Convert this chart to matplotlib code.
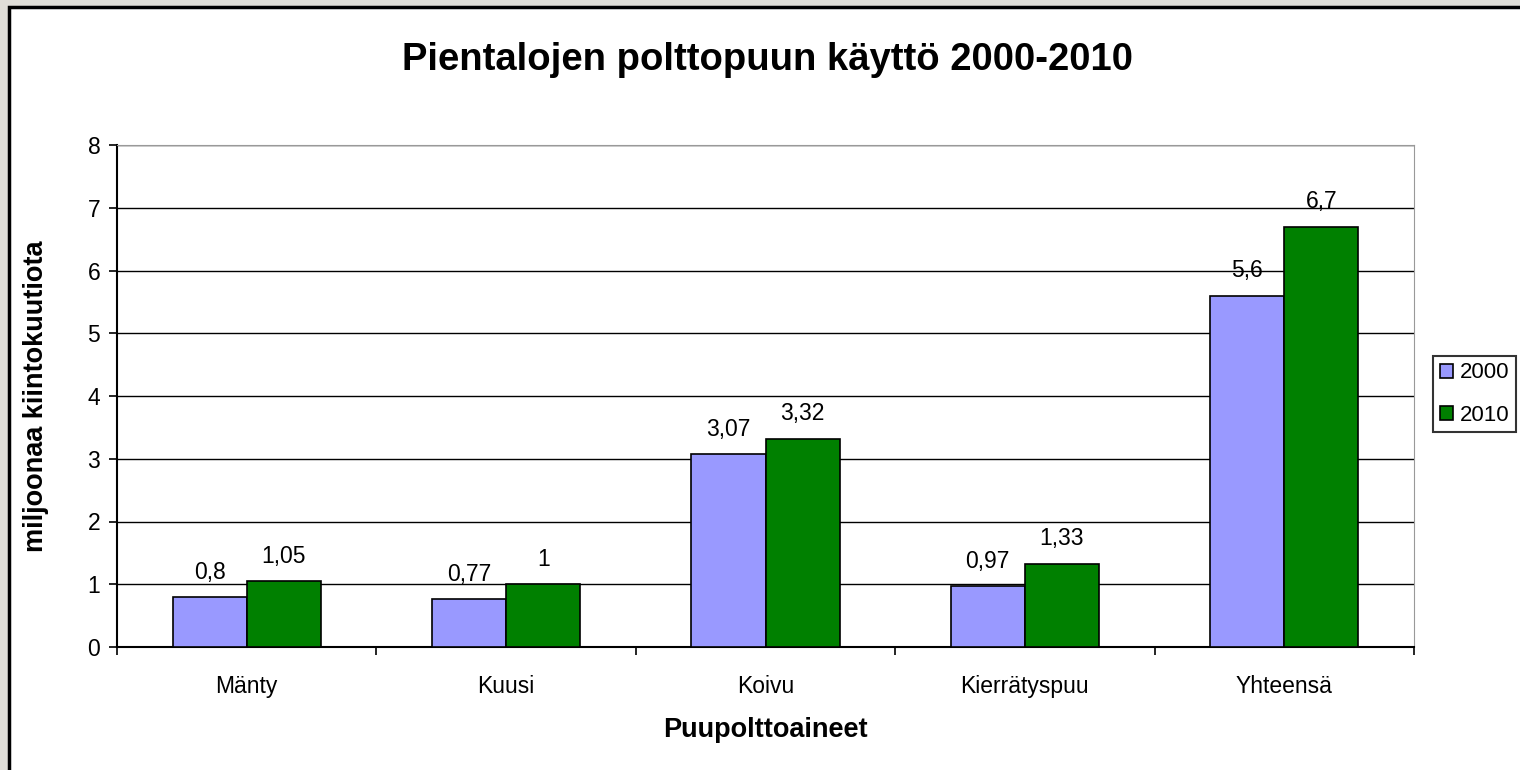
import numpy as np
import matplotlib.pyplot as plt
import matplotlib.patches as mpatches

plt.rcParams['font.family'] = ['Liberation Sans', 'DejaVu Sans']

categories = ['Mänty', 'Kuusi', 'Koivu', 'Kierrätyspuu', 'Yhteensä']
vals_2000 = [0.8, 0.77, 3.07, 0.97, 5.6]
vals_2010 = [1.05, 1.0, 3.32, 1.33, 6.7]
labels_2000 = ['0,8', '0,77', '3,07', '0,97', '5,6']
labels_2010 = ['1,05', '1', '3,32', '1,33', '6,7']

fig = plt.figure(figsize=(15.2, 7.7), dpi=100)
fig.patch.set_facecolor('#E0DED8')
# white chart area with black frame (runs off the right/bottom edges)
fig.patches.append(mpatches.Rectangle((9/1520, -0.05), 1.1, 1 - 5/770 + 0.05 - 0.002,
                                      transform=fig.transFigure, facecolor='white',
                                      edgecolor='black', linewidth=2.5, zorder=-10))

ax = fig.add_axes([117/1520, 1 - 647/770, (1414 - 117)/1520, (647 - 145)/770])
ax.set_zorder(1)
x = np.arange(len(categories))
w = 0.286
b1 = ax.bar(x - w/2, vals_2000, w, color='#9999FF', edgecolor='black', linewidth=1.2, label='2000', zorder=3)
b2 = ax.bar(x + w/2, vals_2010, w, color='#008000', edgecolor='black', linewidth=1.2, label='2010', zorder=3)
for rects, labs in [(b1, labels_2000), (b2, labels_2010)]:
    for r, t in zip(rects, labs):
        ax.text(r.get_x() + r.get_width()/2, r.get_height() + 0.21, t,
                ha='center', va='bottom', fontsize=16.5)

ax.set_xlim(-0.5, 4.5)
ax.set_ylim(0, 8)
ax.set_yticks(range(0, 9))
ax.yaxis.grid(True, color='black', linewidth=1)
ax.set_axisbelow(True)
ax.set_xticks(x)
ax.set_xticklabels(categories, fontsize=16.5)
ax.tick_params(axis='x', length=0, pad=20)
ax.set_xticks(np.arange(-0.5, 5, 1), minor=True)
ax.tick_params(axis='x', which='minor', length=6, width=1.2, direction='out')
ax.tick_params(axis='y', labelsize=16.5, length=6, width=1.2, direction='out', pad=6)
for s in ['top', 'right']:
    ax.spines[s].set_color('#999999')
ax.spines['left'].set_linewidth(1.5)
ax.spines['bottom'].set_linewidth(1.5)

ax.set_xlabel('Puupolttoaineet', fontsize=19.5, fontweight='bold', labelpad=14)
ax.set_ylabel('miljoonaa kiintokuutiota', fontsize=19.5, fontweight='bold', labelpad=28)
fig.text(768/1520, 1 - 60/770, 'Pientalojen polttopuun käyttö 2000-2010',
         ha='center', va='center', fontsize=27.5, fontweight='bold')

leg = ax.legend(loc='center left', bbox_to_anchor=(1433/1520, 1 - 394/770),
                bbox_transform=fig.transFigure, fontsize=16, frameon=True,
                fancybox=False, edgecolor='black', handlelength=0.6, handleheight=0.6,
                handletextpad=0.3, borderpad=0.3, labelspacing=0.95, borderaxespad=0)
leg.get_frame().set_linewidth(1.5)

fig.savefig('out.png', dpi=100, facecolor=fig.get_facecolor())
